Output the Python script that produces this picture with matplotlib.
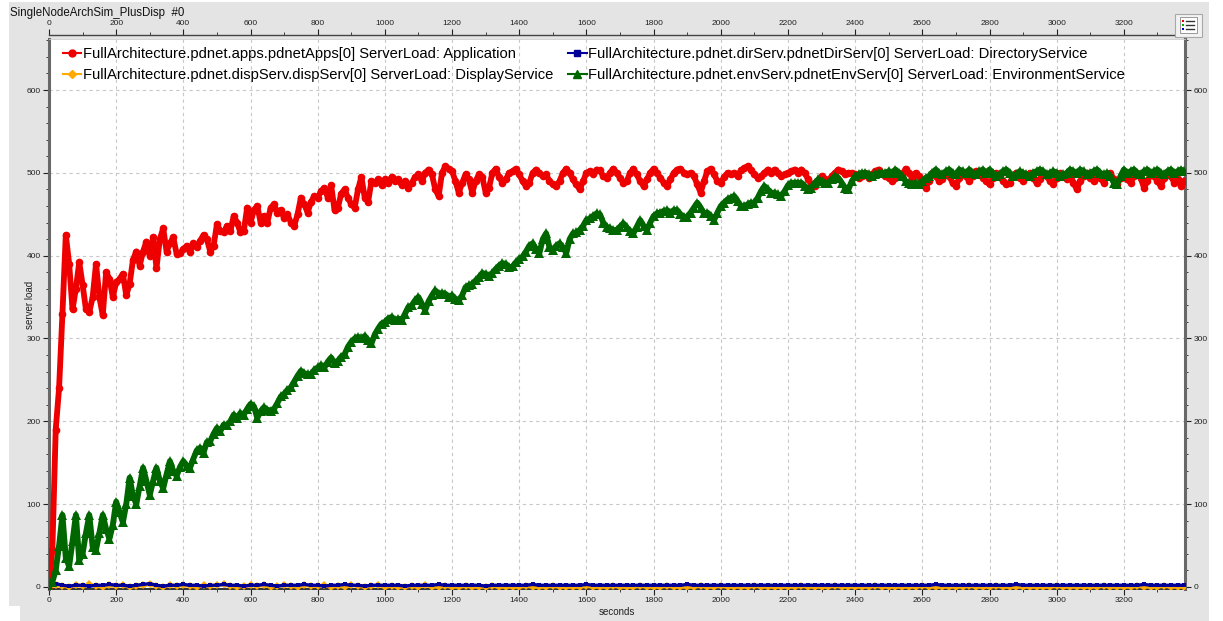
import matplotlib
matplotlib.use("Agg")
import matplotlib.pyplot as plt
import numpy as np
from matplotlib.lines import Line2D
from matplotlib.patches import Rectangle
from matplotlib.ticker import FixedLocator

plt.rcParams['font.family'] = ['Liberation Sans', 'DejaVu Sans']

# ---------------- data ----------------
title = "SingleNodeArchSim_PlusDisp  #0"
x_label = "seconds"
y_label = "server load"
series_labels = [
    "FullArchitecture.pdnet.apps.pdnetApps[0] ServerLoad: Application",
    "FullArchitecture.pdnet.dispServ.dispServ[0] ServerLoad: DisplayService",
    "FullArchitecture.pdnet.dirServ.pdnetDirServ[0] ServerLoad: DirectoryService",
    "FullArchitecture.pdnet.envServ.pdnetEnvServ[0] ServerLoad: EnvironmentService",
]
x_major_ticks = [0, 200, 400, 600, 800, 1000, 1200, 1400, 1600, 1800, 2000,
                 2200, 2400, 2600, 2800, 3000, 3200]
y_major_ticks = [0, 100, 200, 300, 400, 500, 600]

step_main = 10   # seconds between samples (Application / Environment)
step_low = 20    # seconds between samples (Directory / Display)

app_load = [
    0, 45, 190, 240, 330, 425, 390, 335, 360, 392,
    365, 335, 332, 350, 390, 350, 328, 380, 372, 350,
    368, 372, 378, 352, 366, 395, 405, 388, 405, 417,
    400, 422, 385, 420, 433, 405, 415, 422, 402, 403,
    408, 412, 404, 415, 410, 418, 425, 420, 405, 412,
    438, 430, 428, 436, 430, 448, 440, 428, 430, 458,
    440, 455, 460, 440, 448, 440, 458, 462, 452, 455,
    445, 450, 440, 436, 450, 470, 462, 452, 465, 472,
    470, 478, 482, 470, 485, 455, 458, 475, 480, 470,
    462, 458, 480, 495, 470, 465, 490, 488, 492, 485,
    492, 488, 495, 490, 492, 485, 490, 482, 488, 495,
    498, 490, 500, 504, 498, 480, 472, 500, 508, 505,
    502, 490, 476, 488, 498, 492, 476, 490, 498, 495,
    476, 482, 500, 505, 495, 488, 492, 500, 502, 505,
    498, 490, 484, 488, 500, 504, 500, 496, 498, 490,
    486, 484, 490, 500, 505, 500, 492, 486, 480, 490,
    500, 502, 498, 504, 503, 496, 494, 500, 505, 500,
    494, 488, 490, 500, 505, 498, 490, 484, 492, 500,
    505, 500, 494, 488, 484, 492, 500, 504, 505, 500,
    498, 500, 496, 486, 476, 490, 502, 505, 498, 490,
    488, 495, 500, 498, 500, 496, 503, 506, 508, 504,
    498, 494, 496, 500, 504, 500, 504, 500, 496, 498,
    500, 502, 504, 500, 504, 500, 492, 486, 484, 490,
    496, 492, 490, 496, 500, 504, 502, 498, 500, 500,
    498, 494, 496, 500, 494, 498, 502, 504, 500, 496,
    494, 490, 494, 500, 496, 505, 500, 494, 500, 496,
    486, 482, 490, 500, 496, 490, 492, 500, 496, 488,
    484, 494, 500, 496, 490, 496, 502, 498, 494, 490,
    486, 494, 500, 496, 490, 486, 488, 496, 500, 494,
    490, 496, 500, 494, 488, 492, 500, 496, 490, 486,
    494, 500, 496, 492, 498, 488, 480, 490, 496, 500,
    494, 490, 498, 494, 488, 496, 500, 492, 486, 494,
    498, 492, 488, 496, 500, 494, 482, 490, 498, 496,
    490, 484, 494, 500, 496, 488, 492, 484, 490,
]

env_load = [
    0, 6, 20, 50, 87, 35, 25, 55, 87, 32,
    40, 65, 87, 48, 45, 65, 87, 70, 58, 75,
    103, 90, 78, 100, 132, 110, 100, 122, 144, 128,
    111, 128, 144, 128, 119, 136, 152, 140, 134, 145,
    152, 146, 144, 155, 165, 168, 162, 175, 176, 185,
    192, 188, 196, 195, 200, 208, 204, 210, 208, 215,
    221, 218, 204, 212, 217, 214, 213, 215, 222, 230,
    233, 238, 241, 248, 255, 261, 258, 257, 257, 262,
    265, 268, 265, 272, 277, 270, 273, 278, 281, 290,
    296, 300, 302, 300, 303, 298, 294, 305, 312, 318,
    320, 324, 326, 322, 324, 322, 330, 338, 340, 346,
    350, 342, 334, 345, 352, 358, 354, 355, 354, 350,
    352, 348, 346, 352, 362, 364, 366, 370, 374, 379,
    378, 376, 379, 384, 388, 391, 390, 386, 387, 392,
    396, 399, 405, 412, 415, 408, 403, 420, 427, 410,
    407, 412, 415, 410, 403, 420, 427, 428, 431, 436,
    443, 445, 448, 451, 450, 440, 435, 433, 431, 431,
    435, 439, 434, 430, 427, 435, 443, 436, 431, 440,
    448, 451, 452, 454, 455, 452, 455, 455, 450, 447,
    447, 452, 458, 464, 458, 451, 452, 448, 443, 452,
    460, 464, 468, 470, 472, 466, 460, 460, 462, 464,
    464, 470, 478, 484, 480, 476, 476, 474, 472, 478,
    485, 488, 488, 488, 488, 484, 480, 482, 488, 492,
    490, 488, 488, 492, 496, 494, 488, 482, 480, 490,
    496, 498, 500, 500, 498, 496, 498, 500, 500, 500,
    502, 500, 504, 500, 496, 490, 488, 486, 488, 486,
    490, 494, 496, 500, 504, 500, 498, 502, 504, 500,
    498, 504, 502, 500, 504, 500, 498, 502, 504, 500,
    504, 500, 496, 498, 502, 504, 500, 496, 498, 502,
    500, 498, 496, 500, 502, 504, 502, 498, 500, 502,
    500, 496, 498, 500, 504, 502, 500, 504, 502, 498,
    500, 502, 504, 500, 498, 500, 496, 488, 486, 496,
    504, 500, 502, 504, 500, 498, 502, 504, 500, 502,
    504, 500, 498, 502, 504, 500, 502, 504, 502,
]

dir_load = [
    2, 4, 2, 1, 2, 2, 1, 2, 2, 3,
    2, 2, 1, 2, 3, 4, 2, 1, 2, 2,
    3, 2, 2, 1, 2, 2, 3, 2, 2, 1,
    2, 2, 3, 2, 1, 2, 2, 2, 3, 2,
    2, 1, 2, 2, 3, 2, 2, 1, 2, 2,
    2, 2, 2, 1, 2, 2, 2, 2, 3, 2,
    2, 2, 2, 2, 2, 1, 2, 2, 2, 2,
    2, 2, 3, 2, 2, 2, 2, 2, 2, 2,
    3, 2, 2, 2, 2, 2, 2, 2, 2, 2,
    2, 2, 2, 2, 2, 3, 2, 2, 2, 2,
    2, 2, 2, 2, 2, 2, 2, 2, 2, 2,
    2, 2, 2, 2, 2, 2, 2, 2, 2, 2,
    2, 2, 2, 2, 2, 2, 2, 2, 2, 2,
    2, 2, 3, 2, 2, 2, 2, 2, 2, 2,
    2, 2, 2, 2, 3, 2, 2, 2, 2, 2,
    2, 2, 2, 2, 2, 2, 2, 2, 2, 2,
    2, 2, 2, 3, 2, 2, 2, 2, 2, 2,
]

disp_load = [
    0, 2, 1, 0, 2, 1, 3, 1, 0, 2,
    1, 2, 0, 1, 2, 3, 1, 0, 2, 1,
    2, 1, 0, 2, 1, 2, 3, 1, 0, 1,
    2, 1, 2, 0, 1, 2, 1, 0, 2, 1,
    1, 2, 0, 1, 0, 2, 1, 0, 1, 2,
    0, 1, 0, 0, 1, 0, 2, 0, 0, 1,
    0, 0, 1, 0, 0, 0, 1, 0, 0, 0,
    0, 1, 0, 0, 0, 1, 0, 0, 0, 0,
    1, 0, 0, 0, 1, 0, 0, 0, 1, 0,
    0, 0, 1, 0, 0, 0, 0, 1, 0, 0,
    1, 0, 0, 0, 0, 1, 0, 0, 0, 0,
    0, 0, 1, 0, 0, 0, 0, 1, 0, 0,
    0, 0, 0, 1, 0, 0, 0, 0, 0, 0,
    1, 0, 0, 0, 0, 0, 0, 1, 0, 0,
    0, 1, 0, 0, 0, 0, 0, 0, 0, 0,
    1, 0, 0, 0, 0, 0, 0, 1, 0, 0,
    0, 0, 1, 0, 0, 0, 1, 0, 0, 0,
]

colors = {"app": "#ee0000", "disp": "#ffaa00", "dir": "#000099", "env": "#006600"}

# ---------------- figure ----------------
W, H = 1223, 621
fig = plt.figure(figsize=(W / 100, H / 100), dpi=100)
fig.patch.set_facecolor("white")


def fx(px):
    return px / W


def fy(py):
    return 1 - py / H


bg = "#e4e4e4"
fig.add_artist(Rectangle((fx(9), fy(606)), fx(1209) - fx(9), fy(2) - fy(606),
                         transform=fig.transFigure, facecolor=bg, edgecolor="none", zorder=-10))
fig.add_artist(Rectangle((fx(20), fy(621)), fx(1209) - fx(20), fy(606) - fy(621),
                         transform=fig.transFigure, facecolor=bg, edgecolor="none", zorder=-10))

ax = fig.add_axes([fx(49), fy(589), fx(1185) - fx(49), fy(39) - fy(589)])
ax.set_facecolor("white")

t_main = np.arange(len(app_load)) * step_main
t_env = np.arange(len(env_load)) * step_main
t_low = np.arange(len(dir_load)) * step_low
t_disp = np.arange(len(disp_load)) * step_low

ax.plot(t_main, app_load, color=colors["app"], lw=4.2, marker="o", ms=5.5, mew=0,
        solid_joinstyle="round", zorder=3)
ax.plot(t_disp, disp_load, color=colors["disp"], lw=2.6, marker="D", ms=4.5, mew=0, zorder=4)
ax.plot(t_low, dir_load, color=colors["dir"], lw=2.4, marker="s", ms=3, mew=0, zorder=5)
ax.plot(t_env, env_load, color=colors["env"], lw=4.2, marker="^", ms=6.5, mew=0,
        solid_joinstyle="round", zorder=6)

ax.set_xlim(0, 3382)
ax.set_ylim(-2.5, 661.6)

x_minor = [v + 100 for v in x_major_ticks]
y_minor = [v for v in range(0, 661, 20) if v % 100]
ax.xaxis.set_major_locator(FixedLocator(x_major_ticks))
ax.xaxis.set_minor_locator(FixedLocator(x_minor))
ax.yaxis.set_major_locator(FixedLocator(y_major_ticks))
ax.yaxis.set_minor_locator(FixedLocator(y_minor))
ax.tick_params(which="both", direction="out", labelsize=6, colors="#222222",
               left=True, right=True, labelright=True, top=False, bottom=True)
ax.tick_params(which="major", length=4, width=0.8, pad=2)
ax.tick_params(which="minor", length=2.5, width=0.6)
ax.grid(which="major", color="#c8c8c8", ls=(0, (3, 3)), lw=0.8, zorder=0)
ax.set_axisbelow(True)

for side in ("left", "right"):
    ax.spines[side].set_linewidth(2.2)
    ax.spines[side].set_color("#686868")
ax.spines["bottom"].set_linewidth(1.4)
ax.spines["bottom"].set_color("#333333")
ax.spines["top"].set_linewidth(0.6)
ax.spines["top"].set_color("#cccccc")

sec = ax.secondary_xaxis(1.0073)
sec.xaxis.set_major_locator(FixedLocator(x_major_ticks))
sec.xaxis.set_minor_locator(FixedLocator(x_minor))
sec.tick_params(which="both", direction="out", labelsize=6, colors="#222222")
sec.tick_params(which="major", length=4, width=0.8, pad=2)
sec.tick_params(which="minor", length=2.5, width=0.6)
sec.spines["top"].set_linewidth(1.0)
sec.spines["top"].set_color("#444444")

ax.set_xlabel(x_label, fontsize=7, color="#222222", va="center")
ax.xaxis.set_label_coords(0.5, (589 - 612) / 550)
ax.set_ylabel(y_label, fontsize=7, color="#222222", va="center")
ax.yaxis.set_label_coords((30 - 49) / 1136, (589 - 305) / 550)

fig.text(fx(10), fy(13), title, fontsize=8.3, ha="left", va="center", color="#111111")

handles = [
    Line2D([], [], color=colors["app"], lw=1.5, marker="o", ms=5),
    Line2D([], [], color=colors["disp"], lw=1.5, marker="D", ms=4.5),
    Line2D([], [], color=colors["dir"], lw=1.5, marker="s", ms=4.5),
    Line2D([], [], color=colors["env"], lw=1.5, marker="^", ms=5.5),
]
ax.legend(handles, series_labels, ncol=2, loc="upper left",
          bbox_to_anchor=((63 - 49) / 1136, (589 - 47) / 550),
          frameon=False, fontsize=10.6, handlelength=1.25, handletextpad=0.12,
          columnspacing=1.0, labelspacing=0.48, borderpad=0, borderaxespad=0)

# legend toggle icon (top right)
fig.add_artist(Rectangle((fx(1175), fy(37)), fx(1202) - fx(1175), fy(14) - fy(37),
                         transform=fig.transFigure, facecolor="#f2f2f2", edgecolor="#a8a8a8", lw=0.8))
fig.add_artist(Rectangle((fx(1180), fy(33)), fx(1197) - fx(1180), fy(17) - fy(33),
                         transform=fig.transFigure, facecolor="white", edgecolor="#8a8a8a", lw=0.6))
for yy, c in zip((21, 25, 29), ("#ee0000", "#00aa00", "#0000cc")):
    fig.add_artist(Rectangle((fx(1182), fy(yy + 1)), fx(2), fy(0) - fy(2),
                             transform=fig.transFigure, facecolor=c, edgecolor="none"))
    fig.add_artist(Line2D([fx(1186), fx(1194)], [fy(yy), fy(yy)], transform=fig.transFigure,
                          color="#333333", lw=1))

fig.savefig("out.png", dpi=100, facecolor=fig.get_facecolor())
